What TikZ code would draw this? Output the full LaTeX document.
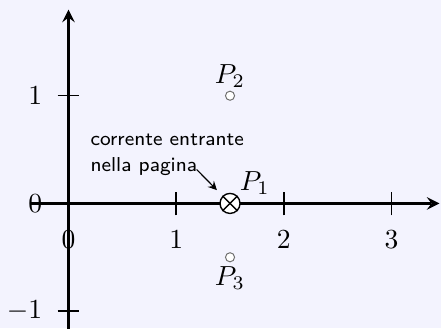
\documentclass[tikz,border=0pt]{standalone}
\usepackage{tikz}
\usetikzlibrary{arrows.meta, positioning}
\definecolor{sfondo}{RGB}{243, 243, 254}
\definecolor{grigio}{RGB}{110, 110, 110}

\begin{document}
\begin{tikzpicture}[x=1.372cm, y=1.372cm,
        asse/.style={->, >=stealth, line width=1pt},
        tacca/.style={line width=0.5pt},
        punto/.style={circle, draw=grigio, fill=white, line width=0.35pt, minimum size=3.3pt, inner sep=0pt},
        filo/.style={circle, draw, fill=white, line width=0.5pt, minimum size=7.25pt, inner sep=0pt},
        nota/.style={align=left, font=\fontsize{7.3}{9.4}\selectfont\sffamily, inner sep=0pt},
        arr/.style={->, >=stealth, line width=0.42pt}
    ]
        % sfondo e riquadro
        \path[use as bounding box, fill=sfondo] (-0.636,-1.157) rectangle (3.459,1.889);

        % assi
        \draw[asse] (-0.35,0) -- (3.445,0);
        \draw[asse] (0,-1.2) -- (0,1.8);
        \foreach \x in {1,2,3} \draw[tacca] (\x,-0.11) -- (\x,0.11);
        \foreach \y in {-1,1} \draw[tacca] (-0.1,\y) -- (0.1,\y);
        \foreach \x in {0,1,2,3} \node at (\x,-0.333) {$\x$};
        \foreach \y in {-1,0,1} \node[anchor=east, inner sep=0pt] at (-0.24,\y) {$\y$};

        % punti
        \node[filo] (P1) at (1.5,0) {};
        \draw[line width=0.5pt] (P1.north west) -- (P1.south east);
        \draw[line width=0.5pt] (P1.north east) -- (P1.south west);
        \node at (1.73,0.19) {$P_1$};
        \node[punto] (P2) at (1.5,1) {};
        \node at (1.5,1.185) {$P_2$};
        \node[punto] (P3) at (1.5,-0.5) {};
        \node at (1.5,-0.69) {$P_3$};

        % nota
        \node[nota, anchor=south west] (testo) at (0.2,0.256) {corrente entrante\\nella pagina};
        \coordinate (inizio) at (1.19,0.315);
        \draw[arr, shorten >=2.9pt] (inizio) -- (P1);
    \end{tikzpicture}
\end{document}
